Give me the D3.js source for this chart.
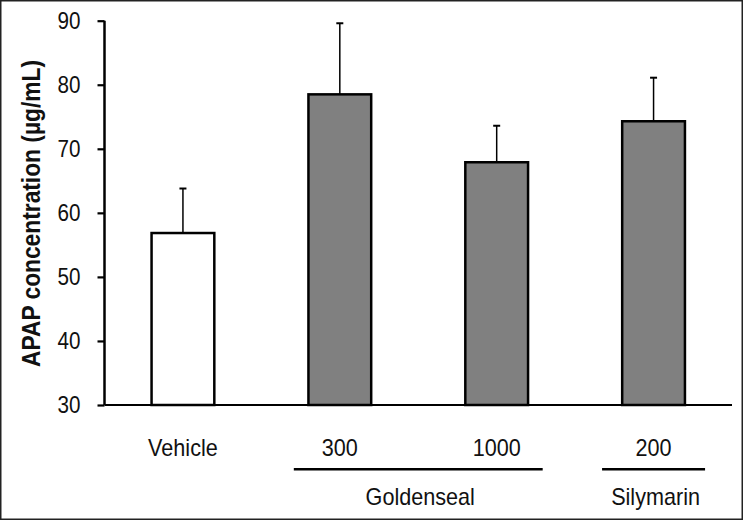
<!DOCTYPE html>
<html>
<head>
<meta charset="utf-8">
<script src="https://cdn.jsdelivr.net/npm/d3@7"></script>
<style>
  html, body { margin: 0; padding: 0; background: #fff; }
  svg { display: block; }
  text { font-family: "Liberation Sans", Arial, sans-serif; fill: #111; }
</style>
</head>
<body>
<script>
// Data
const categories = ["Vehicle", "300", "1000", "200"];
const means = [56.85, 78.5, 67.9, 74.3];
const errTops = [63.8, 89.6, 73.6, 81.1];
const fills = ["#ffffff", "#808080", "#808080", "#808080"];
const yTicks = [30, 40, 50, 60, 70, 80, 90];
const groups = [
  { name: "Goldenseal", members: ["300", "1000"] },
  { name: "Silymarin", members: ["200"] }
];
const yTitle = "APAP concentration (µg/mL)";

const W = 743, H = 520;
const svg = d3.select("body").append("svg").attr("width", W).attr("height", H);

// condense text horizontally (the reference uses a narrow face)
function condense(sel, f) {
  sel.each(function () {
    const L = this.getComputedTextLength();
    d3.select(this).attr("textLength", L * f).attr("lengthAdjust", "spacingAndGlyphs");
  });
}

// frame
svg.append("rect").attr("x", 0.75).attr("y", 0.75).attr("width", W - 1.5).attr("height", H - 1.5)
  .attr("fill", "#fff").attr("stroke", "#222").attr("stroke-width", 1.5);

const x0 = 104.5, x1 = 732, yTop = 20.7, yBot = 405;
const x = d3.scaleBand().domain(categories).range([x0, x1]).paddingInner(0.6).paddingOuter(0.3);
const y = d3.scaleLinear().domain([30, 90]).range([yBot, yTop]);

// bars
svg.selectAll("rect.bar").data(categories).enter().append("rect")
  .attr("class", "bar")
  .attr("x", d => x(d))
  .attr("y", (d, i) => y(means[i]))
  .attr("width", x.bandwidth())
  .attr("height", (d, i) => y(30) - y(means[i]))
  .attr("fill", (d, i) => fills[i])
  .attr("stroke", "#000").attr("stroke-width", 2.5);

// error bars
const eb = svg.selectAll("g.err").data(categories).enter().append("g").attr("class", "err");
eb.append("line")
  .attr("x1", d => x(d) + x.bandwidth() / 2).attr("x2", d => x(d) + x.bandwidth() / 2)
  .attr("y1", (d, i) => y(means[i])).attr("y2", (d, i) => y(errTops[i]))
  .attr("stroke", "#000").attr("stroke-width", 1.5);
eb.append("line")
  .attr("x1", d => x(d) + x.bandwidth() / 2 - 3.5).attr("x2", d => x(d) + x.bandwidth() / 2 + 3.5)
  .attr("y1", (d, i) => y(errTops[i])).attr("y2", (d, i) => y(errTops[i]))
  .attr("stroke", "#000").attr("stroke-width", 2);

// y axis
const yAxis = svg.append("g").attr("transform", `translate(${x0},0)`)
  .call(d3.axisLeft(y).tickValues(yTicks).tickSize(7).tickPadding(17).tickFormat(d3.format("d")));
yAxis.select(".domain").attr("stroke", "#000").attr("stroke-width", 2.5).attr("d", `M0,${yTop}V${yBot}`);
yAxis.selectAll(".tick line").attr("stroke", "#000").attr("stroke-width", 2.2);
yAxis.selectAll(".tick text").attr("font-size", 24).attr("font-family", null).attr("fill", "#111");
condense(yAxis.selectAll(".tick text"), 0.86);

// x axis line
svg.append("line").attr("x1", x0).attr("x2", x1).attr("y1", yBot).attr("y2", yBot)
  .attr("stroke", "#000").attr("stroke-width", 2.2);

// x category labels
const cat = svg.selectAll("text.cat").data(categories).enter().append("text")
  .attr("class", "cat")
  .attr("x", d => x(d) + x.bandwidth() / 2).attr("y", 456)
  .attr("text-anchor", "middle").attr("font-size", 24).text(d => d);
condense(cat, 0.9);

// group lines and labels
groups.forEach(g => {
  const cs = g.members.map(m => x(m) + x.bandwidth() / 2);
  const cx = (d3.min(cs) + d3.max(cs)) / 2;
  const half = g.members.length > 1 ? (d3.max(cs) - d3.min(cs)) / 2 + 46 : 51.5;
  svg.append("line").attr("x1", cx - half).attr("x2", cx + half).attr("y1", 469.3).attr("y2", 469.3)
    .attr("stroke", "#000").attr("stroke-width", 2.5);
  const t = svg.append("text").attr("x", cx + 2).attr("y", 505).attr("text-anchor", "middle")
    .attr("font-size", 24).text(g.name);
  condense(t, 0.9);
});

// y title
const yt = svg.append("text").attr("transform", "translate(40,213.5) rotate(-90)")
  .attr("text-anchor", "middle").attr("font-size", 26).attr("font-weight", "bold")
  .text(yTitle);
yt.attr("textLength", 307).attr("lengthAdjust", "spacingAndGlyphs");
</script>
</body>
</html>
